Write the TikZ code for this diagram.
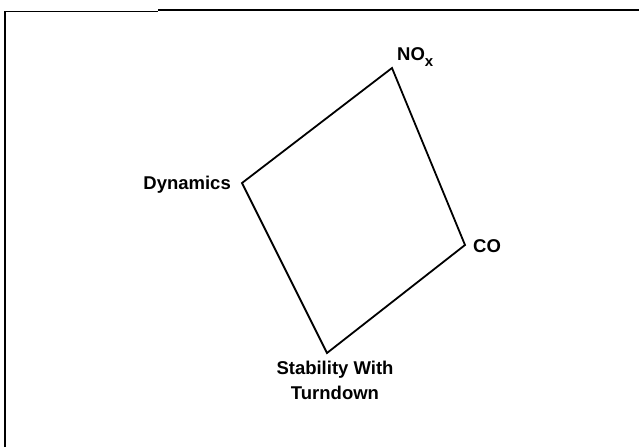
\documentclass[tikz,border=0pt]{standalone}
\usepackage{fontspec}
\setmainfont{Liberation Sans}
\begin{document}
\begin{tikzpicture}[x=1pt,y=-1pt,
  lbl/.style={inner sep=0pt,font=\bfseries\fontsize{18.5}{25}\selectfont},
  edge/.style={line width=1.8pt,line join=miter},
  frame/.style={line width=1.8pt}]
\useasboundingbox (0,0) rectangle (639,447);
% frame (top and left only)
\coordinate (fa) at (5,447);
\coordinate (fb) at (5,11.5);
\coordinate (fc) at (158,11.5);
\coordinate (fd) at (158,10);
\coordinate (fe) at (639,10);
\draw[frame] (fa) -- (fb) -- (fc);
\draw[line width=1.6pt] (fd) -- (fe);
% quadrilateral vertices
\coordinate (nox) at (392,68);
\coordinate (co) at (465,245);
\coordinate (stab) at (327,353);
\coordinate (dyn) at (242,183);
\draw[edge] (nox) -- (co) -- (stab) -- (dyn) -- cycle;
% labels
\node[lbl,anchor=base west] (tnox) at (397,60) {NO\raisebox{-6pt}{\fontsize{15}{15}\selectfont x}};
\node[lbl,anchor=base west] (tco) at (473,252) {CO};
\node[lbl,anchor=base east] (tdyn) at (231,189) {Dynamics};
\node[lbl,anchor=north,align=center] (tstab) at (335,361) {Stability With\\Turndown};
\end{tikzpicture}
\end{document}
